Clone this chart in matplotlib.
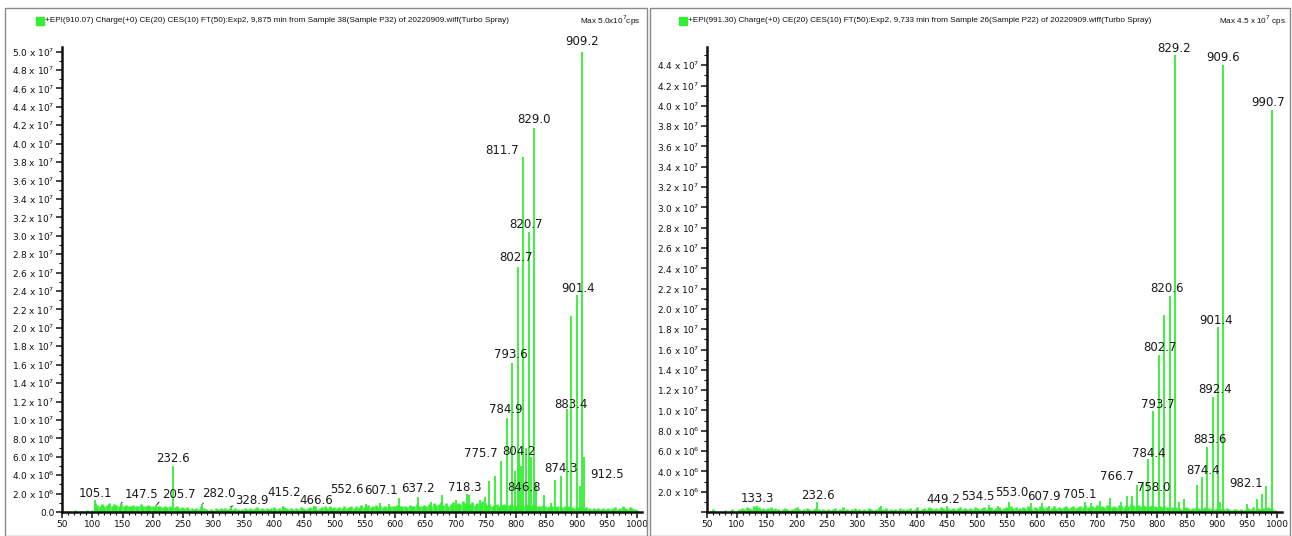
import matplotlib
matplotlib.use("Agg")
import matplotlib.pyplot as plt
import numpy as np
from matplotlib import font_manager
from matplotlib.patches import Rectangle
from matplotlib.ticker import MultipleLocator, FuncFormatter

GREEN = "#33ee33"
W, H = 1292, 536

# ---------------- data (intensities in units of 1e6 cps) ----------------
left_title = ("+EPI(910.07) Charge(+0) CE(20) CES(10) FT(50):Exp2, 9,875 min from "
              "Sample 38(Sample P32) of 20220909.wiff(Turbo Spray)")
right_title = ("+EPI(991.30) Charge(+0) CE(20) CES(10) FT(50):Exp2, 9,733 min from "
               "Sample 26(Sample P22) of 20220909.wiff(Turbo Spray)")
left_max = "Max 5.0x10$^7$cps"
right_max = "Max 4.5 x 10$^7$ cps"

left_peak_mz = [105.1, 147.5, 205.7, 232.6, 282.0, 328.9, 415.2, 466.6, 552.6,
                607.1, 637.2, 718.3, 775.7, 784.9, 793.6, 802.7, 804.2, 811.7,
                820.7, 829.0, 846.8, 874.3, 883.4, 901.4, 909.2, 912.5]
left_peak_int = [1.3, 1.0, 0.8, 5.0, 0.9, 0.6, 0.6, 0.6, 0.9,
                 1.5, 1.6, 2.0, 5.5, 10.2, 16.2, 26.6, 6.4, 38.5,
                 30.4, 41.7, 1.9, 3.9, 11.2, 23.6, 50.0, 6.0]
left_extra_mz = [575.0, 590.0, 660.0, 677.0, 700.0, 722.5, 740.0, 748.0, 756.0,
                 766.0, 798.0, 807.5, 816.0, 825.0, 833.5, 857.0, 865.0, 891.5, 906.0]
left_extra_int = [1.0, 0.9, 1.1, 1.8, 1.3, 1.9, 1.3, 1.6, 3.4,
                  3.9, 4.5, 5.0, 7.0, 6.0, 3.0, 1.0, 3.5, 21.3, 2.8]

right_peak_mz = [133.3, 232.6, 449.2, 534.5, 553.0, 607.9, 705.1, 758.0, 766.7,
                 784.4, 793.7, 802.7, 820.6, 829.2, 874.4, 883.6, 892.4, 901.4,
                 909.6, 982.1, 990.7]
right_peak_int = [0.6, 1.0, 0.6, 0.6, 1.0, 0.9, 1.1, 1.6, 2.7,
                  5.2, 9.9, 15.5, 21.3, 45.0, 3.4, 6.4, 11.3, 18.2,
                  44.0, 2.6, 39.6]
right_extra_mz = [340.0, 520.0, 590.5, 620.0, 680.0, 690.0, 722.0, 740.0, 750.0,
                  776.0, 811.5, 836.0, 845.0, 866.8, 905.0, 950.0, 966.0, 975.0]
right_extra_int = [0.6, 0.7, 0.9, 0.6, 1.0, 0.9, 1.4, 1.0, 1.6,
                   3.0, 19.4, 1.0, 1.3, 2.7, 1.0, 0.8, 1.3, 1.8]

# baseline "grass", one value every 4 Da starting at m/z 52 (units of 1e5 cps)
left_noise = [
    0, 1, 0, 1, 0, 2, 0, 1, 1, 0,
    2, 1, 2, 10, 8, 7, 9, 6, 8, 10,
    7, 9, 8, 6, 9, 7, 8, 6, 7, 8,
    6, 7, 9, 6, 7, 8, 6, 7, 5, 6,
    7, 5, 6, 5, 6, 4, 5, 6, 4, 5,
    4, 5, 3, 4, 3, 4, 3, 6, 4, 3,
    2, 3, 2, 4, 3, 4, 3, 4, 3, 4,
    3, 4, 3, 2, 3, 4, 3, 4, 3, 4,
    5, 3, 4, 3, 4, 3, 4, 5, 3, 4,
    3, 5, 4, 3, 4, 3, 4, 3, 5, 4,
    3, 4, 5, 4, 6, 3, 4, 5, 7, 4,
    7, 4, 5, 4, 5, 4, 6, 4, 5, 6,
    4, 7, 5, 8, 5, 6, 8, 5, 6, 8,
    5, 6, 5, 7, 5, 6, 7, 6, 8, 6,
    6, 7, 5, 8, 6, 7, 9, 6, 7, 8,
    6, 9, 7, 10, 8, 9, 11, 8, 10, 7,
    9, 11, 8, 10, 9, 12, 10, 9, 9, 11,
    8, 10, 9, 12, 10, 8, 9, 7, 8, 9,
    7, 8, 9, 7, 8, 9, 8, 7, 9, 8,
    7, 9, 8, 7, 9, 8, 6, 7, 8, 6,
    5, 6, 7, 5, 6, 7, 5, 6, 5, 6,
    5, 4, 5, 4, 5, 4, 5, 4, 3, 4,
    3, 4, 3, 4, 3, 4, 3, 4, 5, 3,
    4, 6, 4, 3, 5, 4, 3, 2,
]
right_noise = [
    0, 1, 3, 1, 0, 1, 0, 2, 0, 1,
    3, 0, 1, 3, 4, 3, 5, 4, 3, 6,
    4, 5, 3, 4, 3, 4, 5, 3, 4, 3,
    2, 3, 4, 3, 2, 3, 4, 5, 3, 2,
    3, 4, 3, 2, 3, 4, 3, 2, 3, 2,
    3, 2, 3, 4, 2, 3, 5, 2, 3, 2,
    3, 4, 2, 3, 2, 3, 2, 4, 3, 2,
    3, 5, 2, 3, 4, 2, 3, 2, 3, 2,
    4, 3, 2, 3, 4, 2, 3, 5, 2, 3,
    4, 3, 5, 4, 3, 4, 3, 5, 4, 3,
    4, 3, 4, 3, 4, 5, 3, 4, 3, 4,
    3, 5, 4, 3, 4, 5, 3, 4, 5, 3,
    4, 5, 3, 4, 5, 4, 6, 4, 5, 3,
    4, 5, 4, 6, 4, 3, 5, 4, 6, 5,
    4, 5, 3, 4, 6, 4, 5, 4, 5, 6,
    4, 5, 6, 4, 5, 6, 5, 7, 5, 4,
    6, 5, 7, 5, 6, 5, 7, 6, 5, 6,
    5, 7, 6, 5, 7, 6, 8, 7, 6, 7,
    6, 7, 6, 5, 6, 7, 6, 5, 6, 5,
    6, 5, 4, 5, 4, 5, 4, 3, 4, 5,
    4, 3, 4, 5, 4, 3, 4, 5, 4, 3,
    4, 3, 4, 3, 4, 3, 4, 3, 2, 3,
    3, 2, 3, 2, 3, 4, 3, 5, 3, 4,
    3, 4, 3, 5, 4, 3, 2, 1,
]

# label text centres (m/z, 1e6 cps) as placed by the acquisition software
left_label_xy = [(105.7, 2.0), (181.6, 1.9), (242.4, 1.85), (233.9, 5.85), (309.1, 2.0),
                 (364.1, 1.2), (417.7, 2.1), (469.4, 1.2), (520.4, 2.4), (577.3, 2.3),
                 (637.4, 2.55), (716.0, 2.7), (741.4, 6.4), (782.6, 11.1), (791.6, 17.1),
                 (800.0, 27.6), (804.2, 6.55), (776.7, 39.3), (817.0, 31.2), (829.0, 42.6),
                 (813.4, 2.7), (873.5, 4.7), (890.0, 11.7), (901.8, 24.3), (909.0, 51.1),
                 (950.7, 4.1)]
left_leaders = [147.5, 205.7, 282.0, 328.9]
right_label_xy = [(133.8, 1.36), (234.5, 1.66), (444.4, 1.26), (501.0, 1.5), (558.0, 1.93),
                  (611.4, 1.53), (671.8, 1.76), (794.0, 2.43), (733.6, 3.49), (785.6, 5.81),
                  (801.6, 10.6), (804.2, 16.2), (817.0, 22.0), (827.5, 45.7), (876.5, 4.09),
                  (888.2, 7.14), (896.0, 12.1), (898.5, 18.9), (909.6, 44.8), (948.0, 2.76),
                  (984.3, 40.3)]


def has_font(name):
    try:
        font_manager.findfont(name, fallback_to_default=False)
        return True
    except Exception:
        return False


if has_font("Liberation Sans Narrow"):
    title_font, title_size = "Liberation Sans Narrow", 6.8
else:
    title_font, title_size = "Liberation Sans", 5.9

plt.rcParams["font.family"] = "DejaVu Sans"


def px_rect(left, top, w, h):
    return [left / W, 1 - (top + h) / H, w / W, h / H]


def sci_label(v, pos, show_zero):
    if abs(v) < 1:
        return "0.0" if show_zero else ""
    if v < 0:
        return ""
    e = int(np.floor(np.log10(v) + 1e-9))
    return f"{v / 10 ** e:.1f} x 10$^{{{e}}}$"


def draw_panel(ax, noise, peak_mz, peak_int, extra_mz, extra_int, label_xy,
               leaders, ytop, show_zero):
    noise_mz = 52 + 4 * np.arange(len(noise))
    ax.vlines(noise_mz, 0, np.array(noise) * 1e5, color=GREEN, lw=1.9)
    ax.vlines(extra_mz, 0, np.array(extra_int) * 1e6, color=GREEN, lw=1.3)
    ax.vlines(peak_mz, 0, np.array(peak_int) * 1e6, color=GREEN, lw=1.3)

    for mz, h, (lx, ly) in zip(peak_mz, peak_int, label_xy):
        if mz in leaders:
            ax.annotate(f"{mz:.1f}", xy=(mz + 1, h * 1e6), xytext=(lx, ly * 1e6),
                        ha="center", va="center", fontsize=8.5, color="#1a1a1a",
                        arrowprops=dict(arrowstyle="-", color="#333333", lw=0.8,
                                        shrinkA=0, shrinkB=0, relpos=(0, 0.2)),
                        annotation_clip=False)
        else:
            ax.text(lx, ly * 1e6, f"{mz:.1f}", ha="center", va="center",
                    fontsize=8.5, color="#1a1a1a", clip_on=False)

    ax.set_xlim(50, 1008)
    ax.set_ylim(0, ytop)
    ax.xaxis.set_major_locator(MultipleLocator(50))
    ax.xaxis.set_minor_locator(MultipleLocator(10))
    ax.yaxis.set_major_locator(MultipleLocator(2e6))
    ax.yaxis.set_minor_locator(MultipleLocator(1e6))
    ax.yaxis.set_major_formatter(FuncFormatter(lambda v, p: sci_label(v, p, show_zero)))
    for s in ["top", "right"]:
        ax.spines[s].set_visible(False)
    for s in ["left", "bottom"]:
        ax.spines[s].set_linewidth(1.8)
        ax.spines[s].set_color("#111111")
    ax.tick_params(axis="both", which="major", direction="out", length=4, width=1.1,
                   labelsize=6.5, colors="#111111", pad=1.5)
    ax.tick_params(axis="both", which="minor", direction="out", length=2, width=0.8,
                   colors="#111111")
    ax.patch.set_alpha(0)


fig = plt.figure(figsize=(W / 100, H / 100), dpi=100)

# panel frames
for x0, x1 in [(5, 647), (650, 1290)]:
    fig.patches.append(Rectangle((x0 / W, 0.0), (x1 - x0) / W, 1 - 8 / H,
                                 transform=fig.transFigure, fill=False,
                                 edgecolor="#8a8a8a", lw=1.0))

axl = fig.add_axes(px_rect(62, 47, 580, 465))
draw_panel(axl, left_noise, left_peak_mz, left_peak_int, left_extra_mz, left_extra_int,
           left_label_xy, left_leaders, 50.5e6, True)

axr = fig.add_axes(px_rect(707, 47, 575, 465))
draw_panel(axr, right_noise, right_peak_mz, right_peak_int, right_extra_mz,
           right_extra_int, right_label_xy, [], 45.8e6, False)

# headers
for sq_x, tx, title, mx, mtxt in [(36, 45, left_title, 640, left_max),
                                  (679, 688, right_title, 1286, right_max)]:
    fig.patches.append(Rectangle((sq_x / W, 1 - 25 / H), 8 / W, 8 / H,
                                 transform=fig.transFigure, color=GREEN))
    fig.text(tx / W, 1 - 21 / H, title, fontsize=title_size, family=title_font,
             va="center", ha="left", color="#111111")
    fig.text(mx / W, 1 - 21 / H, mtxt, fontsize=title_size, family=title_font,
             va="center", ha="right", color="#111111")

fig.savefig("out.png", dpi=100)
